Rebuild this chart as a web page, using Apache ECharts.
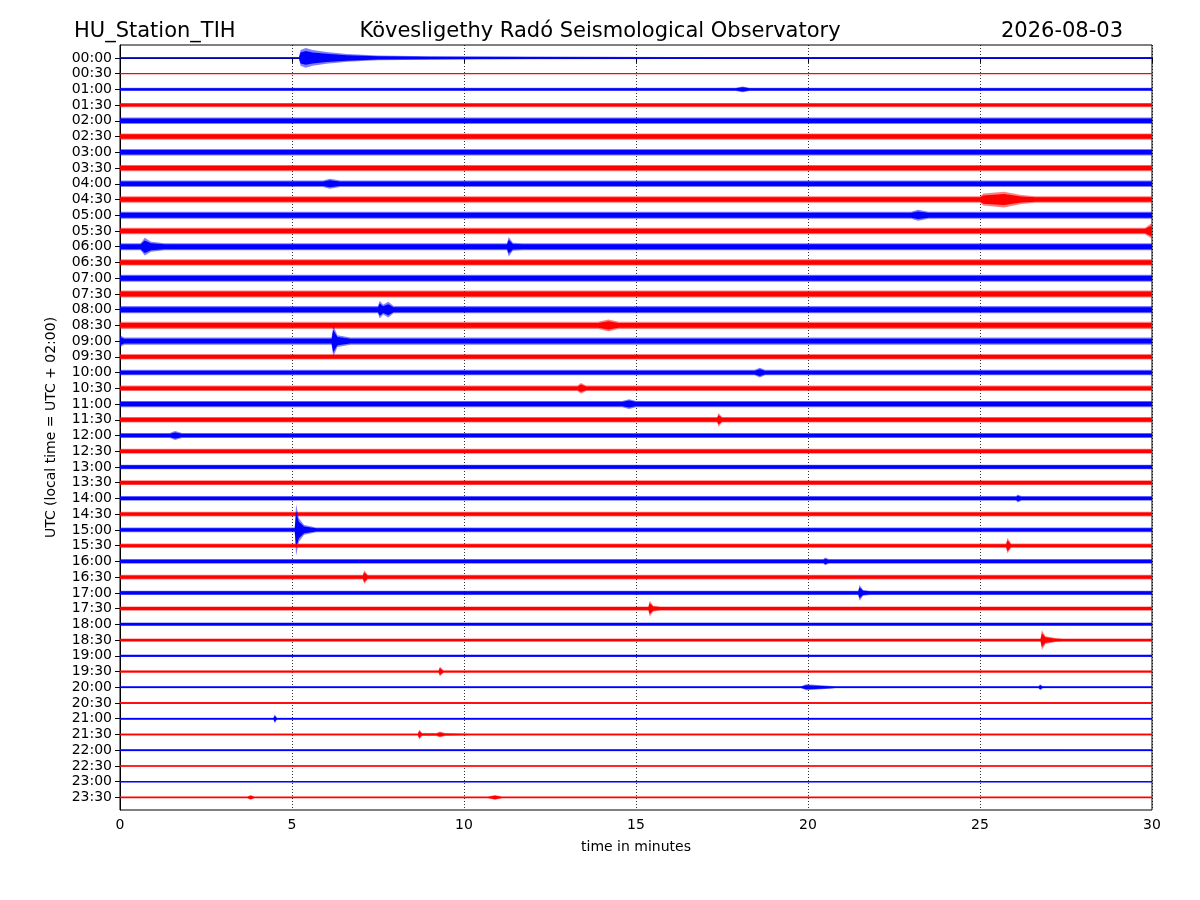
<!DOCTYPE html>
<html>
<head>
<meta charset="utf-8">
<title>HU_Station_TIH helicorder</title>
<script src="https://cdn.jsdelivr.net/npm/echarts@6/dist/echarts.min.js"></script>
<style>
  html, body { margin: 0; padding: 0; background: #fff; }
  #chart { width: 1200px; height: 900px; }
</style>
</head>
<body>
<div id="chart"></div>
<script>
// one trace per half hour, 00:00 at the top
const traceLabels = [
  "00:00", "00:30", "01:00", "01:30", "02:00", "02:30", "03:00", "03:30",
  "04:00", "04:30", "05:00", "05:30", "06:00", "06:30", "07:00", "07:30",
  "08:00", "08:30", "09:00", "09:30", "10:00", "10:30", "11:00", "11:30",
  "12:00", "12:30", "13:00", "13:30", "14:00", "14:30", "15:00", "15:30",
  "16:00", "16:30", "17:00", "17:30", "18:00", "18:30", "19:00", "19:30",
  "20:00", "20:30", "21:00", "21:30", "22:00", "22:30", "23:00", "23:30"
];

// background noise half-amplitude of each trace (1 unit = 1/16 of the trace spacing)
const noiseAmp = [
  0.6, 0.6, 1.6, 2.2, 3.3, 3.2, 3.3, 3.2,
  3.3, 3.2, 3.6, 3.2, 3.6, 3.2, 3.6, 3.6,
  3.6, 3.6, 3.6, 2.8, 2.8, 2.8, 3.2, 2.8,
  2.6, 2.6, 2.4, 2.4, 2.4, 2.4, 2.4, 2.2,
  2.4, 2.4, 2.2, 2.2, 1.8, 1.6, 1.3, 1.3,
  1.1, 1.0, 1.0, 1.0, 1.0, 0.8, 0.8, 1.0
];

// events: [trace index, envelope points [minute, half-amplitude]]
const events = [
  [0, [[5.2, 0.6], [5.25, 8], [5.4, 10], [5.6, 8], [6.0, 6], [6.6, 4], [7.5, 2.5], [9, 1.8], [12, 1.3], [16, 1.0], [22, 0.9], [30, 0.8]]],
  [2, [[17.9, 1.6], [18.1, 3], [18.3, 1.6]]],
  [8, [[5.9, 3.3], [6.1, 5], [6.4, 3.3]]],
  [9, [[25.0, 3.2], [25.1, 6], [25.7, 8], [26.2, 4.5], [26.6, 3.2]]],
  [10, [[23.0, 3.6], [23.2, 5.5], [23.5, 3.6]]],
  [11, [[29.8, 3.2], [29.95, 7], [30, 7]]],
  [12, [[0.6, 3.6], [0.72, 9], [0.9, 5], [1.3, 3.6]]],
  [12, [[11.25, 3.6], [11.3, 10], [11.42, 4], [11.7, 3.6]]],
  [16, [[7.5, 3.6], [7.55, 9], [7.65, 5], [7.8, 8], [7.95, 3.6]]],
  [17, [[13.9, 3.6], [14.2, 6], [14.5, 3.6]]],
  [18, [[0, 6], [0.12, 3.6]]],
  [18, [[6.15, 3.6], [6.2, 16], [6.32, 6], [6.7, 3.6]]],
  [20, [[18.45, 2.8], [18.6, 5], [18.75, 2.8]]],
  [21, [[13.3, 2.8], [13.4, 5.5], [13.55, 2.8]]],
  [22, [[14.6, 3.2], [14.8, 5], [15.0, 3.2]]],
  [23, [[17.36, 2.8], [17.4, 7], [17.5, 2.8]]],
  [24, [[1.45, 2.6], [1.6, 4.5], [1.8, 2.6]]],
  [28, [[26.05, 2.4], [26.1, 4], [26.2, 2.4]]],
  [30, [[5.08, 2.4], [5.12, 26], [5.2, 12], [5.35, 5], [5.7, 2.4]]],
  [31, [[25.76, 2.2], [25.8, 8], [25.9, 2.2]]],
  [32, [[20.45, 2.4], [20.5, 4], [20.6, 2.4]]],
  [33, [[7.06, 2.4], [7.1, 7], [7.2, 2.4]]],
  [34, [[21.46, 2.2], [21.5, 8], [21.6, 3], [21.8, 2.2]]],
  [35, [[15.36, 2.2], [15.4, 8], [15.5, 3], [15.7, 2.2]]],
  [37, [[26.76, 1.6], [26.8, 10], [26.9, 4], [27.2, 2], [27.4, 1.6]]],
  [39, [[9.26, 1.3], [9.3, 5], [9.4, 1.3]]],
  [40, [[19.8, 1.1], [19.95, 3], [20.4, 2], [20.8, 1.1]]],
  [40, [[26.7, 1.1], [26.75, 3], [26.82, 1.1]]],
  [42, [[4.46, 1], [4.5, 4.5], [4.56, 1]]],
  [43, [[8.66, 1], [8.7, 5], [8.78, 1.5], [9.2, 1.5], [9.3, 3], [9.45, 1.5], [10.2, 1]]],
  [47, [[3.7, 1], [3.8, 2.5], [3.9, 1]]],
  [47, [[10.7, 1], [10.9, 2.5], [11.1, 1]]]
];

const xTicks = [0, 5, 10, 15, 20, 25, 30];
const AMP_UNIT = 1 / 16;
const colors = ["#0000ff", "#ff0000"];
const FONT = "DejaVu Sans";

function envelope(k) {
  const pts = [[0, noiseAmp[k]]];
  events.filter((e) => e[0] === k).forEach((e) => pts.push(...e[1]));
  pts.push([30, noiseAmp[k]]);
  return pts.sort((a, b) => a[0] - b[0]);
}

function band(api, k, pts, f) {
  const upper = pts.map((p) => api.coord([p[0], k - p[1] * AMP_UNIT * f]));
  const lower = pts.map((p) => api.coord([p[0], k + p[1] * AMP_UNIT * f])).reverse();
  return upper.concat(lower);
}

function renderTrace(params, api) {
  const k = api.value(1);
  const pts = envelope(k);
  const color = colors[k % 2];
  const a = api.coord([0, k]);
  const b = api.coord([30, k]);
  return {
    type: "group",
    children: [
      { type: "polygon", shape: { points: band(api, k, pts, 1) }, style: { fill: color, opacity: 0.5 } },
      { type: "polygon", shape: { points: band(api, k, pts, 0.7) }, style: { fill: color } },
      { type: "line", shape: { x1: a[0], y1: a[1], x2: b[0], y2: b[1] }, style: { stroke: color, lineWidth: 1 } }
    ]
  };
}

const chart = echarts.init(document.getElementById("chart"), null, { renderer: "canvas" });

chart.setOption({
  backgroundColor: "#fff",
  animation: false,
  textStyle: { fontFamily: FONT },
  title: [
    { text: "HU_Station_TIH", left: 69, top: 16, textStyle: { fontFamily: FONT, fontSize: 21, fontWeight: "normal", color: "#000" } },
    { text: "Kövesligethy Radó Seismological Observatory", left: "center", top: 16, textStyle: { fontFamily: FONT, fontSize: 21, fontWeight: "normal", color: "#000" } },
    { text: "2026-08-03", right: 72, top: 16, textStyle: { fontFamily: FONT, fontSize: 21, fontWeight: "normal", color: "#000" } }
  ],
  grid: { left: 120, right: 48, top: 45, bottom: 90, show: true, borderColor: "#000", borderWidth: 1, backgroundColor: "transparent" },
  xAxis: {
    type: "value",
    min: 0,
    max: 30,
    interval: 5,
    name: "time in minutes",
    nameLocation: "middle",
    nameGap: 30,
    nameTextStyle: { fontFamily: FONT, fontSize: 14, color: "#000" },
    axisLine: { lineStyle: { color: "#000" } },
    axisTick: { length: 5, lineStyle: { color: "#000" } },
    axisLabel: { fontFamily: FONT, fontSize: 14, color: "#000", margin: 8, formatter: (v) => (xTicks.includes(v) ? String(v) : "") },
    splitLine: { show: true, lineStyle: { color: "#000", type: [1, 2], width: 0.8 } }
  },
  yAxis: {
    type: "value",
    inverse: true,
    min: -0.82,
    max: 47.8,
    name: "UTC (local time = UTC + 02:00)",
    nameLocation: "middle",
    nameGap: 62,
    nameTextStyle: { fontFamily: FONT, fontSize: 14, color: "#000" },
    axisLine: { show: true, lineStyle: { color: "#000" } },
    axisTick: { show: true, length: 5, customValues: traceLabels.map((_, i) => i), lineStyle: { color: "#000" } },
    axisLabel: {
      fontFamily: FONT, fontSize: 14, color: "#000", margin: 8,
      customValues: traceLabels.map((_, i) => i),
      formatter: (v) => traceLabels[Math.round(v)]
    },
    splitLine: { show: false }
  },
  series: [{
    type: "custom",
    clip: true,
    renderItem: renderTrace,
    data: traceLabels.map((_, k) => [0, k])
  }]
});
</script>
</body>
</html>
